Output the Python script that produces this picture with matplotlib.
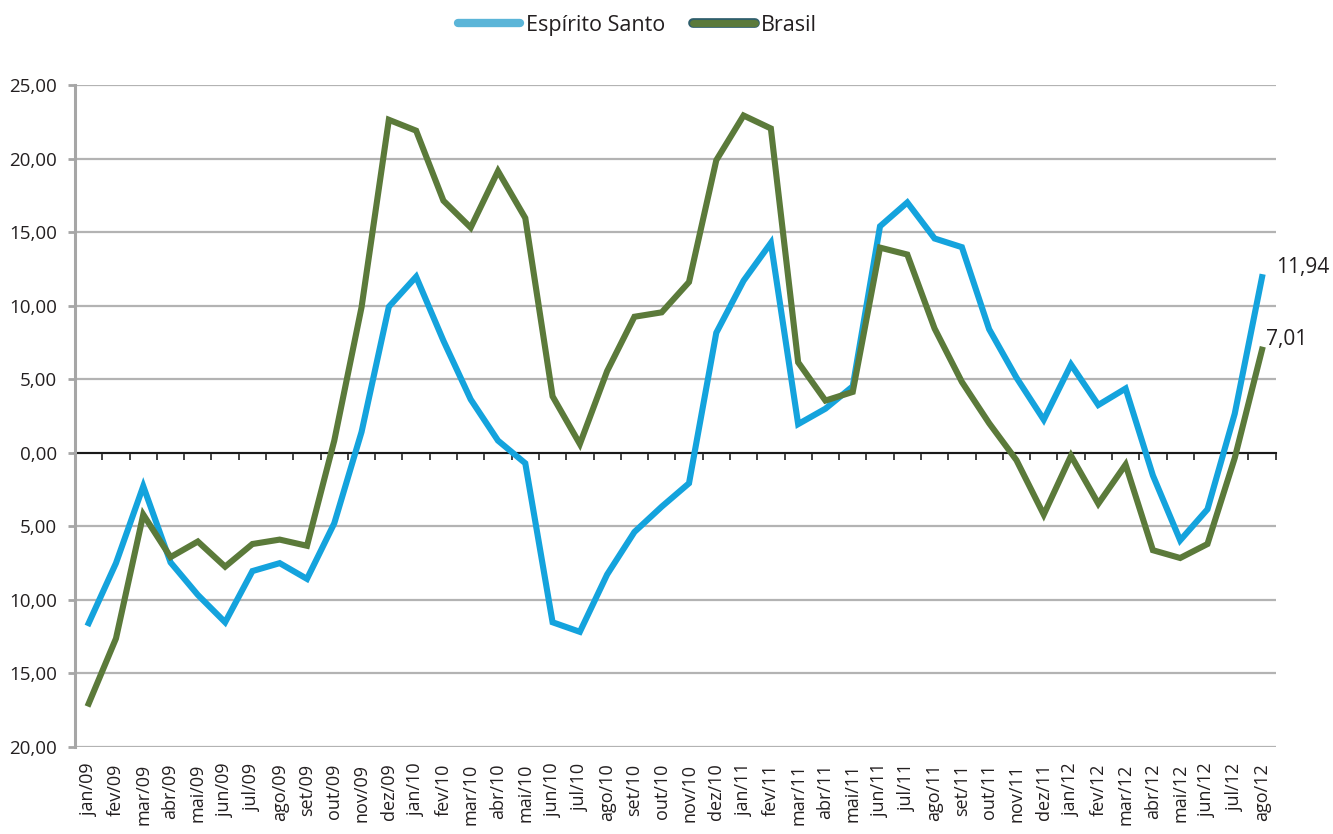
import matplotlib
matplotlib.use("Agg")
import matplotlib.pyplot as plt
import matplotlib.patheffects as pe
from matplotlib.lines import Line2D
from matplotlib.ticker import FuncFormatter, MultipleLocator
import numpy as np

# ── Dados ─────────────────────────────────────────────────────────────────────
MONTHS = [
    "jan/09", "fev/09", "mar/09", "abr/09", "mai/09", "jun/09", "jul/09", "ago/09",
    "set/09", "out/09", "nov/09", "dez/09",
    "jan/10", "fev/10", "mar/10", "abr/10", "mai/10", "jun/10", "jul/10", "ago/10",
    "set/10", "out/10", "nov/10", "dez/10",
    "jan/11", "fev/11", "mar/11", "abr/11", "mai/11", "jun/11", "jul/11", "ago/11",
    "set/11", "out/11", "nov/11", "dez/11",
    "jan/12", "fev/12", "mar/12", "abr/12", "mai/12", "jun/12", "jul/12", "ago/12",
]

ESPIRITO_SANTO = [
    -11.58, -7.50, -2.27, -7.45, -9.66, -11.52, -8.04, -7.50, -8.57, -4.79, 1.42, 9.93,
    11.97, 7.62, 3.63, 0.83, -0.71, -11.52, -12.17, -8.27, -5.38, -3.66, -2.07, 8.16,
    11.70, 14.27, 1.95, 3.00, 4.52, 15.40, 17.02, 14.57, 13.98, 8.40, 5.11, 2.25,
    6.00, 3.25, 4.37, -1.54, -5.95, -3.84, 2.66, 11.94,
]

BRASIL = [
    -17.05, -12.62, -4.20, -7.09, -6.03, -7.74, -6.20, -5.90, -6.32, 0.83, 9.90, 22.64,
    21.90, 17.14, 15.31, 19.15, 15.96, 3.84, 0.60, 5.56, 9.25, 9.55, 11.61, 19.89,
    22.93, 22.05, 6.15, 3.55, 4.14, 13.95, 13.48, 8.45, 4.82, 2.01, -0.50, -4.20,
    -0.20, -3.46, -0.80, -6.62, -7.15, -6.20, -0.35, 7.01,
]

BLUE = "#14a3dd"
BLUE_LEG = "#5bb5d8"
GREEN = "#5b7a3a"
TEXT = "#231f20"
GRID = "#b3b3b3"

plt.rcParams["font.family"] = ["Open Sans", "DejaVu Sans"]

fig = plt.figure(figsize=(13.33, 8.34), dpi=100)
ax = fig.add_axes([0.0563, 0.1043, 0.9007, 0.7937])

x = np.arange(len(MONTHS))
ax.plot(x, ESPIRITO_SANTO, color=BLUE, lw=4.4, solid_joinstyle="miter", zorder=3)
ax.plot(x, BRASIL, color=GREEN, lw=4.4, solid_joinstyle="miter", zorder=4)

ax.set_xlim(-0.5, len(MONTHS) - 0.5)
ax.set_ylim(-20, 25)

# eixo y
ax.yaxis.set_major_locator(MultipleLocator(5))
ax.yaxis.set_major_formatter(FuncFormatter(lambda v, _: f"{abs(v):.2f}".replace(".", ",")))
ax.tick_params(axis="y", length=5, width=2, color="#a6a6a6", labelsize=13.5,
               labelcolor=TEXT, pad=8)
ax.grid(axis="y", color=GRID, lw=1.6, zorder=0)
ax.set_axisbelow(True)

for s in ["top", "right"]:
    ax.spines[s].set_visible(False)
ax.spines["left"].set_color("#a6a6a6")
ax.spines["left"].set_linewidth(2.2)

# linha do zero com marcas entre as categorias
ax.spines["bottom"].set_position(("data", 0))
ax.spines["bottom"].set_color("#1a1a1a")
ax.spines["bottom"].set_linewidth(1.5)
ax.spines["bottom"].set_zorder(2)
ax.set_xticks(np.arange(len(MONTHS) + 1) - 0.5)
ax.tick_params(axis="x", length=5, width=1.3, color="#333333", labelbottom=False)

# rótulos dos meses na base
sec = ax.secondary_xaxis(0.0)
sec.set_xticks(x, MONTHS, rotation=90)
sec.tick_params(length=0, labelsize=13, labelcolor=TEXT, pad=12)
sec.spines["bottom"].set_visible(False)
for lab in sec.get_xticklabels():
    lab.set_verticalalignment("top")

# valores finais
ax.annotate("11,94", (x[-1], ESPIRITO_SANTO[-1]), xytext=(10, 7), textcoords="offset points",
            fontsize=15, color=TEXT, ha="left", va="center")
ax.annotate("7,01", (x[-1], BRASIL[-1]), xytext=(3, 7), textcoords="offset points",
            fontsize=15, color=TEXT, ha="left", va="center")

# legenda
handles = [
    Line2D([0], [0], color=BLUE_LEG, lw=6, solid_capstyle="round"),
    Line2D([0], [0], color=GREEN, lw=5, solid_capstyle="round",
           path_effects=[pe.Stroke(linewidth=7, foreground="#2f5e6b"), pe.Normal()]),
]
fig.legend(handles, ["Espírito Santo", "Brasil"], loc="center", bbox_to_anchor=(0.478, 0.97),
           ncol=2, frameon=False, fontsize=15.5, handlelength=2.9, handletextpad=0.25,
           columnspacing=1.3, labelcolor=TEXT)

fig.savefig("out.png", dpi=100)
